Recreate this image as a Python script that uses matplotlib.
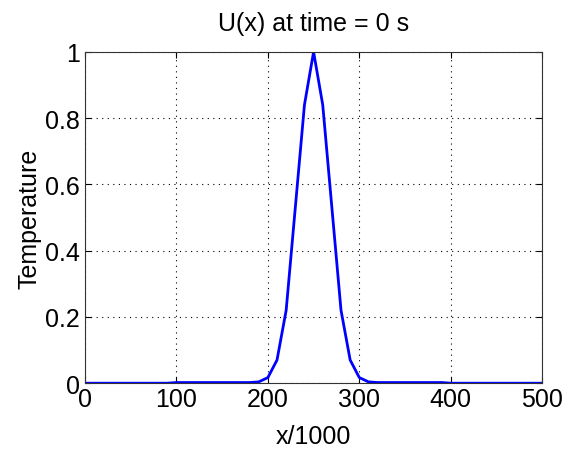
import matplotlib
matplotlib.use('Agg')
import matplotlib.pyplot as plt

# initial temperature profile, sampled every 10 (x/1000)
x_km = list(range(0, 501, 10))
temp = [0.0] * 10 + \
    [0.002, 0.002, 0.002, 0.002, 0.002, 0.002, 0.002, 0.002, 0.002, 0.004,
     0.017, 0.07, 0.22, 0.53, 0.84, 1.0, 0.84, 0.53, 0.22, 0.07,
     0.017, 0.004, 0.002, 0.002, 0.002, 0.002, 0.002, 0.002, 0.002, 0.002] + \
    [0.0] * 11

xticks = [0, 100, 200, 300, 400, 500]
yticks = [0, 0.2, 0.4, 0.6, 0.8, 1]
ytick_labels = ['0', '0.2', '0.4', '0.6', '0.8', '1']

plt.rcParams['font.family'] = ['Liberation Sans', 'DejaVu Sans']

fig = plt.figure(figsize=(5.63, 4.52), dpi=100)
ax = fig.add_axes([0.151, 0.150, 0.812, 0.733])

ax.plot(x_km, temp, '-', color='#0000ff', lw=2)

ax.set_xlim(0, 500)
ax.set_ylim(0, 1)
ax.set_xticks(xticks)
ax.set_yticks(yticks)
ax.set_yticklabels(ytick_labels)
ax.tick_params(direction='in', labelsize=18, length=4, top=True, right=True)
ax.tick_params(axis='x', pad=3)
ax.grid(True, color='k', linestyle=(0, (1, 4)), lw=0.8)

ax.set_title('U(x) at time = 0 s', fontsize=18, pad=16)
ax.set_xlabel('x/1000', fontsize=18, labelpad=9)
ax.set_ylabel('Temperature', fontsize=18, labelpad=3)

for s in ax.spines.values():
    s.set_color('#333333')

fig.savefig('out.png', dpi=100)
